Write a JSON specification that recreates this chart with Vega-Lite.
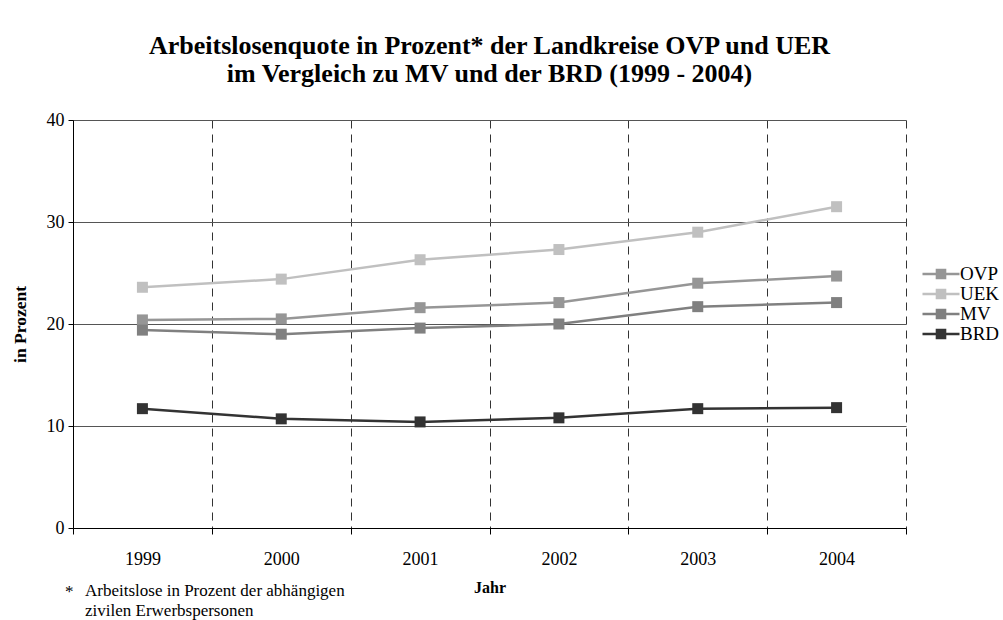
{
  "$schema": "https://vega.github.io/schema/vega-lite/v6.json",
  "width": 833,
  "height": 408,
  "autosize": {"type": "none"},
  "padding": {"left": 73, "top": 120, "right": 97, "bottom": 92},
  "background": "white",
  "title": {
    "text": ["Arbeitslosenquote in Prozent* der Landkreise OVP und UER", "im Vergleich zu MV und der BRD (1999 - 2004)"],
    "font": "Liberation Serif", "fontSize": 26, "fontWeight": "bold", "color": "black",
    "anchor": "middle", "offset": 24, "lineHeight": 28
  },
  "config": {"view": {"stroke": null}, "font": "Liberation Serif"},
  "datasets": {
    "werte": [
      {"Jahr": 1999, "Region": "OVP", "Wert": 20.4},
      {"Jahr": 2000, "Region": "OVP", "Wert": 20.5},
      {"Jahr": 2001, "Region": "OVP", "Wert": 21.6},
      {"Jahr": 2002, "Region": "OVP", "Wert": 22.1},
      {"Jahr": 2003, "Region": "OVP", "Wert": 24.0},
      {"Jahr": 2004, "Region": "OVP", "Wert": 24.7},
      {"Jahr": 1999, "Region": "UEK", "Wert": 23.6},
      {"Jahr": 2000, "Region": "UEK", "Wert": 24.4},
      {"Jahr": 2001, "Region": "UEK", "Wert": 26.3},
      {"Jahr": 2002, "Region": "UEK", "Wert": 27.3},
      {"Jahr": 2003, "Region": "UEK", "Wert": 29.0},
      {"Jahr": 2004, "Region": "UEK", "Wert": 31.5},
      {"Jahr": 1999, "Region": "MV", "Wert": 19.4},
      {"Jahr": 2000, "Region": "MV", "Wert": 19.0},
      {"Jahr": 2001, "Region": "MV", "Wert": 19.6},
      {"Jahr": 2002, "Region": "MV", "Wert": 20.0},
      {"Jahr": 2003, "Region": "MV", "Wert": 21.7},
      {"Jahr": 2004, "Region": "MV", "Wert": 22.1},
      {"Jahr": 1999, "Region": "BRD", "Wert": 11.7},
      {"Jahr": 2000, "Region": "BRD", "Wert": 10.7},
      {"Jahr": 2001, "Region": "BRD", "Wert": 10.4},
      {"Jahr": 2002, "Region": "BRD", "Wert": 10.8},
      {"Jahr": 2003, "Region": "BRD", "Wert": 11.7},
      {"Jahr": 2004, "Region": "BRD", "Wert": 11.8}
    ],
    "fussnote": [
      {"stern": "*", "text": ["Arbeitslose in Prozent der abhängigen", "zivilen Erwerbspersonen"]}
    ]
  },
  "layer": [
    {
      "data": {"name": "werte"},
      "mark": {"type": "line", "strokeWidth": 2.5},
      "encoding": {
        "x": {
          "field": "Jahr", "type": "quantitative",
          "scale": {"domain": [1998.5, 2004.5], "nice": false, "zero": false},
          "axis": {
            "values": [1998.5, 1999, 1999.5, 2000, 2000.5, 2001, 2001.5, 2002, 2002.5, 2003, 2003.5, 2004, 2004.5],
            "labelExpr": "datum.value % 1 === 0 ? '' + datum.value : ''",
            "gridOpacity": {"condition": {"test": "datum.value % 1 === 0", "value": 0}, "value": 1},
            "tickOpacity": {"condition": {"test": "datum.value % 1 === 0", "value": 0}, "value": 1},
            "grid": true, "gridDash": [8, 6], "gridColor": "#333333", "gridWidth": 1,
            "domainColor": "black", "domainWidth": 1, "tickColor": "black", "tickSize": 6,
            "labelPadding": 16, "labelFontSize": 18, "labelColor": "black", "labelOverlap": false,
            "labelFont": "Liberation Serif", "labelBound": false, "labelFlush": false,
            "title": "Jahr", "titleFont": "Liberation Serif", "titleFontSize": 16, "titleFontWeight": "bold",
            "titlePadding": 11, "titleColor": "black"
          }
        },
        "y": {
          "field": "Wert", "type": "quantitative",
          "scale": {"domain": [0, 40], "nice": false},
          "axis": {
            "values": [0, 10, 20, 30, 40],
            "grid": true, "gridColor": "#555555", "gridWidth": 1,
            "domainColor": "black", "tickColor": "black", "tickSize": 5,
            "labelPadding": 4, "labelFontSize": 18, "labelColor": "black", "labelFont": "Liberation Serif",
            "title": "in Prozent", "titleFont": "Liberation Serif", "titleFontSize": 17.5, "titleFontWeight": "bold",
            "titlePadding": 17, "titleColor": "black"
          }
        },
        "color": {
          "field": "Region", "type": "nominal",
          "scale": {"domain": ["OVP", "UEK", "MV", "BRD"], "range": ["#969696", "#c0c0c0", "#808080", "#333333"]},
          "legend": {
            "title": null, "orient": "none", "legendX": 858, "legendY": 144,
            "symbolType": "M-1.85,-0.125H-0.53V-0.53H0.53V-0.125H1.85V0.125H0.53V0.53H-0.53V0.125H-1.85Z",
            "symbolSize": 400, "symbolStrokeWidth": 0,
            "labelOffset": 9, "rowPadding": 0, "labelFontSize": 19, "labelColor": "black", "labelFont": "Liberation Serif",
            "encode": {"symbols": {"update": {"fill": {"scale": "color", "field": "value"}, "stroke": {"value": "transparent"}, "opacity": {"value": 1}}}}
          }
        }
      }
    },
    {
      "data": {"name": "werte"},
      "mark": {"type": "point", "shape": "square", "filled": true, "opacity": 1, "size": 121},
      "encoding": {
        "x": {"field": "Jahr", "type": "quantitative"},
        "y": {"field": "Wert", "type": "quantitative"},
        "color": {"field": "Region", "type": "nominal"}
      }
    },
    {
      "data": {"name": "fussnote"},
      "mark": {"type": "text", "align": "left", "baseline": "middle", "dx": -8, "dy": 64, "fontSize": 17, "font": "Liberation Serif", "color": "black"},
      "encoding": {
        "x": {"datum": 1998.5, "type": "quantitative"},
        "y": {"datum": 0, "type": "quantitative"},
        "text": {"field": "stern"}
      }
    },
    {
      "data": {"name": "fussnote"},
      "mark": {"type": "text", "align": "left", "baseline": "middle", "dx": 12, "dy": 63, "fontSize": 17, "lineHeight": 20, "font": "Liberation Serif", "color": "black"},
      "encoding": {
        "x": {"datum": 1998.5, "type": "quantitative"},
        "y": {"datum": 0, "type": "quantitative"},
        "text": {"field": "text"}
      }
    }
  ]
}
